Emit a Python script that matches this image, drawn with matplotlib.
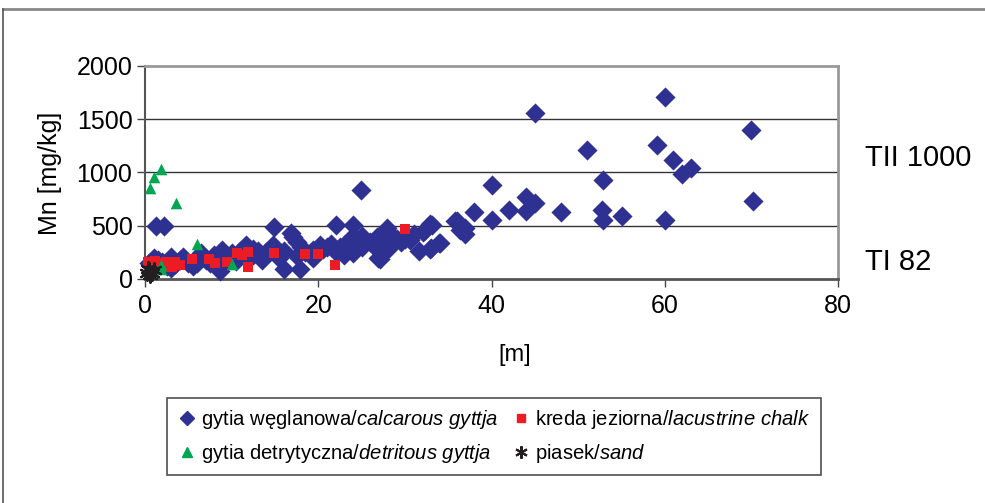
import matplotlib
matplotlib.use("Agg")
import matplotlib.pyplot as plt
from matplotlib.lines import Line2D

plt.rcParams['font.family'] = ['Liberation Sans', 'DejaVu Sans']
plt.rcParams['mathtext.fontset'] = 'custom'
plt.rcParams['mathtext.it'] = 'Liberation Sans:italic'
plt.rcParams['mathtext.rm'] = 'Liberation Sans'

# gytia weglanowa / calcarous gyttja
calc_x = [0.5, 1.0, 1.5, 2.0, 1.3, 2.2, 2.5, 3.0, 3.5, 4.0, 4.4, 5.0, 5.5, 6.0, 6.5, 7.0,
          7.5, 8.0, 8.7, 8.9, 9.5, 10.0, 10.5, 11.0, 11.7, 12.0, 12.5, 13.0, 13.5, 14.0,
          14.9, 14.8, 15.5, 16.0, 16.0, 16.9, 17.05, 17.5, 17.9, 17.5, 18.0, 18.5, 19.4,
          19.4, 20.2, 20.5, 21.0, 22.0, 22.0, 22.5, 23.0, 23.5, 24.05, 24.05, 24.0, 24.5,
          24.9, 25.0, 25.5, 26.0, 26.5, 26.8, 26.9, 27.1, 27.5, 27.9, 28.0, 28.5, 29.1,
          29.5, 30.0, 30.6, 31.0, 31.6, 32.1, 32.3, 32.9, 32.9, 33.0, 33.1, 33.9, 34.0,
          35.8, 36.0, 36.4, 36.9, 36.9, 37.95, 40.1, 40.1, 42.0, 43.96, 43.96, 45.0, 45.0,
          48.0, 51.0, 52.7, 52.9, 52.9, 55.1, 59.1, 60.0, 60.0, 61.0, 62.0, 63.0, 70.0, 70.2,
          3.0, 6.0, 9.0, 12.5, 21.5, 23.0, 25.0, 28.0]
calc_y = [150, 200, 180, 160, 500, 500, 120, 100, 140, 180, 210, 150, 120, 200, 240, 180,
          150, 230, 78, 273, 200, 240, 170, 260, 321, 200, 230, 260, 180, 250,
          488, 321, 200, 91, 260, 431, 399, 352, 91, 220, 300, 250, 273,
          195, 321, 280, 300, 509, 250, 300, 320, 280, 509, 242, 400, 350,
          833, 300, 360, 352, 300, 399, 195, 189, 350, 478, 320, 400, 377,
          350, 380, 368, 420, 264, 446, 462, 516, 283, 290, 509, 337, 342,
          541, 547, 462, 478, 421, 626, 883, 556, 644, 767, 641, 1555, 713,
          629, 1210, 648, 930, 556, 594, 1260, 1710, 556, 1120, 987, 1044, 1400, 729,
          210, 150, 140, 280, 330, 230, 400, 280]

# kreda jeziorna / lacustrine chalk
chalk_x = [0.3, 0.8, 1.2, 1.6, 2.0, 2.4, 2.8, 3.1, 3.5, 4.0, 5.46, 7.4, 8.1, 9.5,
           10.6, 11.2, 11.9, 11.9, 14.9, 18.5, 20.0, 21.9, 30.0]
chalk_y = [160, 130, 170, 150, 110, 160, 130, 116, 160, 130, 189, 189, 148, 163,
           242, 226, 257, 110, 248, 233, 233, 130, 469]

# gytia detrytyczna / detritous gyttja
detr_x = [0.58, 1.04, 1.9, 3.6, 6.0, 10.0, 1.85, 1.9]
detr_y = [850, 960, 1030, 710, 330, 145, 130, 95]

# piasek / sand
sand_x = [0.2, 0.5, 0.8, 1.0, 0.6, 0.3]
sand_y = [60, 85, 55, 80, 40, 95]

fig = plt.figure(figsize=(9.85, 5.03), dpi=100)
ax = fig.add_axes([145 / 985, 1 - 279 / 503, (838 - 145) / 985, (279 - 66) / 503])

ax.scatter(calc_x, calc_y, marker='D', s=105, color='#2E3192', linewidths=0,
           zorder=3, clip_on=False)
ax.scatter(chalk_x, chalk_y, marker='s', s=55, color='#ED1C24', linewidths=0,
           zorder=4, clip_on=False)
ax.scatter(detr_x, detr_y, marker='^', s=70, color='#00A651', linewidths=0,
           zorder=5, clip_on=False)
ax.scatter(sand_x, sand_y, marker=(6, 2, 0), s=110, color='#231F20', linewidths=1.6,
           zorder=6, clip_on=False)

ax.set_xlim(0, 80)
ax.set_ylim(0, 2000)
ax.set_xticks([0, 20, 40, 60, 80])
ax.set_yticks([0, 500, 1000, 1500, 2000])
for v in [500, 1000, 1500]:
    ax.axhline(v, color='#333333', lw=1.0, zorder=1)
ax.tick_params(axis='both', labelsize=18, length=6, width=1, color='#444444')
ax.tick_params(axis='x', pad=5)
ax.tick_params(axis='y', pad=3)
ax.spines['top'].set_color('#999999')
ax.spines['top'].set_linewidth(2)
ax.spines['right'].set_color('#999999')
ax.spines['right'].set_linewidth(2)
ax.spines['bottom'].set_color('#555555')
ax.spines['bottom'].set_linewidth(2)
ax.spines['left'].set_color('#555555')
ax.spines['left'].set_linewidth(1.5)

fig.text(515 / 985, 1 - 355 / 503, '[m]', ha='center', va='center', fontsize=17)
fig.text(50 / 985, 1 - 173 / 503, 'Mn [mg/kg]', ha='center', va='center',
         rotation=90, fontsize=18)
fig.text(865 / 985, 1 - 158 / 503, 'TII 1000', ha='left', va='center', fontsize=21)
fig.text(865 / 985, 1 - 262 / 503, 'TI 82', ha='left', va='center', fontsize=21)

# legend with mixed upright / italic text
handles = [
    Line2D([], [], marker='D', ls='', color='#2E3192', ms=7),
    Line2D([], [], marker='^', ls='', color='#00A651', ms=7),
    Line2D([], [], marker='s', ls='', color='#ED1C24', ms=6),
    Line2D([], [], marker=(6, 2, 0), ls='', color='#231F20', ms=9, mew=1.5),
]
labels = ['gytia węglanowa/$\\mathit{calcarous\\ gyttja}$',
          'gytia detrytyczna/$\\mathit{detritous\\ gyttja}$',
          'kreda jeziorna/$\\mathit{lacustrine\\ chalk}$',
          'piasek/$\\mathit{sand}$']
leg = fig.legend(handles, labels, ncol=2,
                 loc='upper left', bbox_to_anchor=(167 / 985, 1 - 398 / 503),
                 borderaxespad=0, fontsize=14.6, frameon=True, fancybox=False,
                 edgecolor='#222222', handletextpad=0.2, columnspacing=0.6,
                 handlelength=1.0, borderpad=0.5, labelspacing=0.55)
leg.get_frame().set_linewidth(1.2)

# outer frame
fig.add_artist(Line2D([3 / 985, 1], [1 - 9 / 503, 1 - 9 / 503], color='#888888', lw=2))
fig.add_artist(Line2D([3 / 985, 3 / 985], [0, 1 - 9 / 503], color='#555555', lw=1.2))

fig.savefig('out.png', dpi=100)
